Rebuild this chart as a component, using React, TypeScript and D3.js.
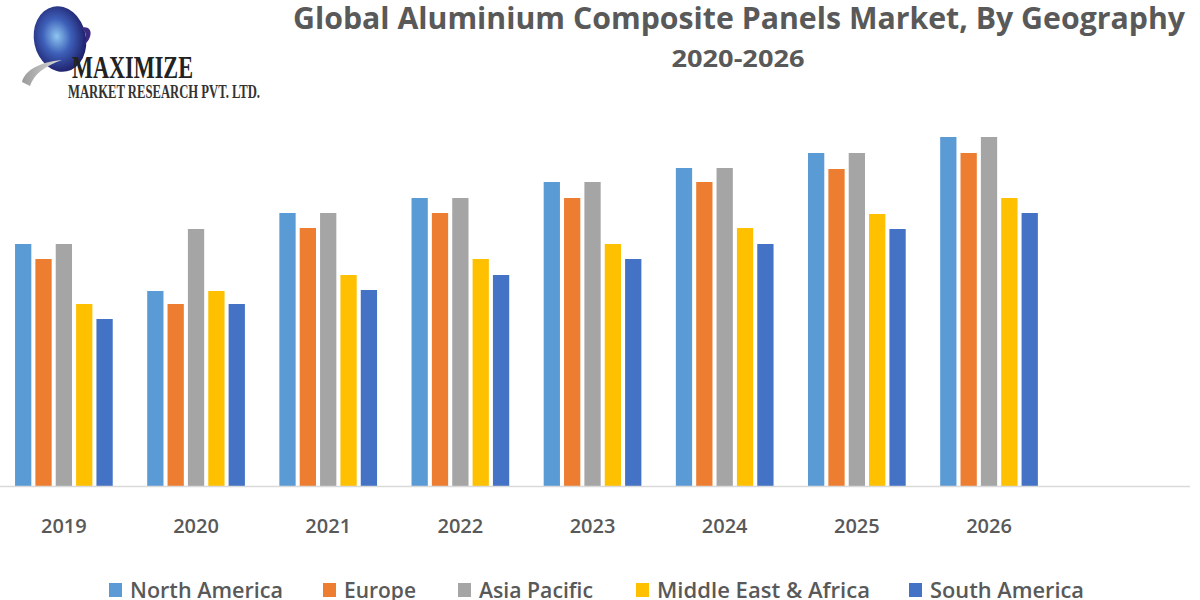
import React from "react";
import * as d3 from "d3";

const years = ["2019", "2020", "2021", "2022", "2023", "2024", "2025", "2026"];
const seriesNames = ["North America", "Europe", "Asia Pacific", "Middle East & Africa", "South America"];
const northAmerica = [242, 195, 273, 288, 304, 318, 333, 349];
const europe = [227, 182, 258, 273, 288, 304, 317, 333];
const asiaPacific = [242, 257, 273, 288, 304, 318, 333, 349];
const middleEastAfrica = [182, 195, 211, 227, 242, 258, 272, 288];
const southAmerica = [167, 182, 196, 211, 227, 242, 257, 273];
const seriesValues = [northAmerica, europe, asiaPacific, middleEastAfrica, southAmerica];
const colors = ["#5B9BD5", "#ED7D31", "#A5A5A5", "#FFC000", "#4472C4"];

// legend layout
const legendX = [109, 323, 458, 636, 909];
const legendTextW = [153, 72, 114, 213, 154];

const W = 1200;
const H = 600;
const baseY = 486;

export default function App() {
  const x0 = d3.scaleBand<string>().domain(years).range([-2.2, 1055.1]).paddingInner(0.23).paddingOuter(0.115);
  const x1 = d3.scaleBand<string>().domain(seriesNames).range([0, x0.bandwidth()]).paddingInner(0.2).paddingOuter(0.1);
  const y = d3.scaleLinear().domain([0, 350]).range([baseY, baseY - 350]);
  const textColor = "#595959";

  return (
    <svg width={W} height={H} style={{ position: "fixed", left: 0, top: 0, background: "#fff" }}>
      <defs>
        <radialGradient id="globe" cx="45%" cy="45%" r="60%">
          <stop offset="0%" stopColor="#8ec5f0" />
          <stop offset="45%" stopColor="#3d5fb8" />
          <stop offset="100%" stopColor="#1b1760" />
        </radialGradient>
        <linearGradient id="swoosh" x1="0" y1="0" x2="1" y2="0">
          <stop offset="0%" stopColor="#9a9a9a" />
          <stop offset="100%" stopColor="#dcdcdc" />
        </linearGradient>
      </defs>
      <rect x={0} y={0} width={W} height={H} fill="#fff" />

      {/* Logo */}
      <g>
        <ellipse cx={60} cy={39} rx={26} ry={33} transform="rotate(-12 60 39)" fill="url(#globe)" />
        <path d="M80,28 C95,24 92,40 84,45 C88,36 86,30 80,28 Z" fill="#3a2a80" />
        <path d="M22,82 C25,70 40,62 62,60 C45,66 34,74 30,86 Z" fill="url(#swoosh)" />
        <text x={72} y={78} fontFamily="Liberation Serif" fontWeight="bold" fontSize={31} fill="#222" textLength={121} lengthAdjust="spacingAndGlyphs">MAXIMIZE</text>
        <text x={68} y={98} fontFamily="Liberation Serif" fontWeight="bold" fontSize={18} fill="#333" textLength={192} lengthAdjust="spacingAndGlyphs">MARKET RESEARCH PVT. LTD.</text>
      </g>

      {/* Title */}
      <text x={739} y={29} textAnchor="middle" fontFamily="Open Sans" fontWeight="bold" fontSize={30} fill={textColor} textLength={892} lengthAdjust="spacingAndGlyphs">
        Global Aluminium Composite Panels Market, By Geography
      </text>
      <text x={738} y={67} textAnchor="middle" fontFamily="Open Sans" fontWeight="bold" fontSize={23} fill={textColor} textLength={133} lengthAdjust="spacingAndGlyphs">
        2020-2026
      </text>

      {/* Bars */}
      {years.map((yr, i) => (
        <g key={yr} transform={`translate(${x0(yr)},0)`}>
          {seriesNames.map((s, j) => (
            <rect key={s} x={x1(s)} y={y(seriesValues[j][i])} width={x1.bandwidth()} height={baseY - y(seriesValues[j][i])} fill={colors[j]} />
          ))}
        </g>
      ))}

      {/* Axis */}
      <line x1={0} x2={1190} y1={baseY + 0.5} y2={baseY + 0.5} stroke="#d9d9d9" strokeWidth={1.5} />
      {years.map((yr) => (
        <text key={yr} x={(x0(yr) as number) + x0.bandwidth() / 2} y={533} textAnchor="middle" fontFamily="Open Sans" fontWeight={600} fontSize={20} fill={textColor}>
          {yr}
        </text>
      ))}

      {/* Legend */}
      {seriesNames.map((s, j) => (
        <g key={s}>
          <rect x={legendX[j]} y={583} width={13} height={14} fill={colors[j]} />
          <text x={legendX[j] + 21} y={598} fontFamily="Open Sans" fontWeight={600} fontSize={21} fill={textColor} textLength={legendTextW[j]} lengthAdjust="spacingAndGlyphs">
            {s}
          </text>
        </g>
      ))}
    </svg>
  );
}
